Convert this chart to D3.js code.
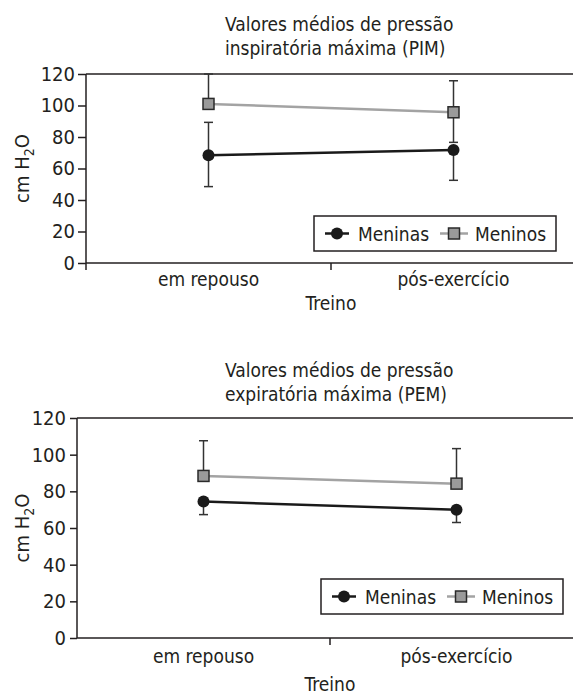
<!DOCTYPE html>
<html>
<head>
<meta charset="utf-8">
<script src="https://cdn.jsdelivr.net/npm/d3@7"></script>
<style>
  html, body { margin: 0; padding: 0; background: #fff; }
  svg { display: block; }
  text { font-family: "Liberation Sans Narrow", "DejaVu Sans Condensed", "Arial Narrow", sans-serif; fill: #231f20; }
</style>
</head>
<body>
<svg id="chart" width="573" height="696"></svg>
<script>
// ---------- data ----------
const categories = ["em repouso", "pós-exercício"];
const yTicks = [0, 20, 40, 60, 80, 100, 120];
const seriesNames = ["Meninas", "Meninos"];
const xAxisTitle = "Treino";

const pimTitle = ["Valores médios de pressão", "inspiratória máxima (PIM)"];
const pimMeninas = [68.4, 71.7];
const pimMeninasLow = [48.5, 52.5];
const pimMeninasHigh = [89.3, null];
const pimMeninos = [101, 95.7];
const pimMeninosLow = [null, 76.6];
const pimMeninosHigh = [120, 115.7];

const pemTitle = ["Valores médios de pressão", "expiratória máxima (PEM)"];
const pemMeninas = [74.4, 70.0];
const pemMeninasLow = [67.3, 63.0];
const pemMeninasHigh = [null, null];
const pemMeninos = [88.4, 84.2];
const pemMeninosLow = [null, null];
const pemMeninosHigh = [107.6, 103.3];

// ---------- drawing ----------
const svg = d3.select("#chart");
const FONT = 19;
const FAM = '"Liberation Sans Narrow", "DejaVu Sans Condensed", sans-serif';

function drawChart(cfg) {
  const g = svg.append("g");
  const x = d3.scaleBand().domain(categories).range([cfg.left, cfg.right]);
  const y = d3.scaleLinear().domain([0, 120]).range([cfg.bottom, cfg.top]);
  const cx = c => x(c) + x.bandwidth() / 2;

  // title
  const t = g.append("text").attr("x", cfg.titleX).attr("y", cfg.titleY)
    .style("font-size", FONT + "px");
  cfg.title.forEach((line, i) => {
    t.append("tspan").attr("x", cfg.titleX).attr("dy", i === 0 ? 0 : 24).text(line);
  });

  // top frame line
  g.append("line").attr("x1", cfg.left).attr("x2", cfg.right)
    .attr("y1", y(120)).attr("y2", y(120))
    .attr("stroke", "#231f20").attr("stroke-width", 1.5);

  // y axis
  const ya = g.append("g").attr("transform", `translate(${cfg.left},0)`)
    .call(d3.axisLeft(y).tickValues(yTicks).tickSize(cfg.yTickSize).tickPadding(cfg.yTickPad).tickSizeOuter(0));
  ya.select(".domain").attr("stroke", "#231f20").attr("stroke-width", 1.5)
    .attr("d", `M0,${y(120)}V${cfg.bottom + cfg.xOuter}`);
  ya.selectAll(".tick line").attr("stroke", "#231f20").attr("stroke-width", 1.5);
  ya.selectAll(".tick text").style("font-size", "20px").attr("fill", "#231f20")
    .style("font-family", FAM);

  // x axis
  const xa = g.append("g").attr("transform", `translate(0,${cfg.bottom})`)
    .call(d3.axisBottom(x).tickSize(0).tickPadding(cfg.xLabelPad));
  xa.select(".domain").attr("stroke", "#231f20").attr("stroke-width", 1.5)
    .attr("d", `M${cfg.left},0H${cfg.right}`);
  xa.selectAll(".tick text").style("font-size", FONT + "px").attr("fill", "#231f20")
    .style("font-family", FAM);
  // tick between categories
  g.append("line")
    .attr("x1", x(categories[1])).attr("x2", x(categories[1]))
    .attr("y1", cfg.bottom).attr("y2", cfg.bottom + 7)
    .attr("stroke", "#231f20").attr("stroke-width", 1.5);

  // x axis title
  g.append("text").attr("x", x(categories[1])).attr("y", cfg.xTitleY)
    .attr("text-anchor", "middle").style("font-size", FONT + "px").text(xAxisTitle);

  // y axis title
  const yl = g.append("text")
    .attr("transform", `translate(${cfg.yTitleX},${(cfg.top + cfg.bottom) / 2}) rotate(-90)`)
    .attr("text-anchor", "middle").style("font-size", "20px");
  yl.append("tspan").text("cm H");
  yl.append("tspan").attr("dy", 5).style("font-size", "14px").text("2");
  yl.append("tspan").attr("dy", -5).text("O");

  const series = [
    { name: seriesNames[0], v: cfg.meninas, lo: cfg.meninasLow, hi: cfg.meninasHigh, color: "#1a1a1a", shape: "circle" },
    { name: seriesNames[1], v: cfg.meninos, lo: cfg.meninosLow, hi: cfg.meninosHigh, color: "#a3a3a3", shape: "square" }
  ];

  // error bars
  const eb = g.append("g").attr("stroke", "#333").attr("stroke-width", 1.5);
  series.forEach(s => {
    categories.forEach((c, i) => {
      const X = cx(c);
      const top = s.hi[i] != null ? s.hi[i] : s.v[i];
      const bot = s.lo[i] != null ? s.lo[i] : s.v[i];
      eb.append("line").attr("x1", X).attr("x2", X).attr("y1", y(top)).attr("y2", y(bot));
      [s.hi[i], s.lo[i]].forEach(b => {
        if (b != null) eb.append("line").attr("x1", X - 4.5).attr("x2", X + 4.5).attr("y1", y(b)).attr("y2", y(b));
      });
    });
  });

  // lines
  const lineGen = d3.line().x((d, i) => cx(categories[i])).y(d => y(d));
  series.slice().reverse().forEach(s => {
    g.append("path").datum(s.v).attr("d", lineGen).attr("fill", "none")
      .attr("stroke", s.color).attr("stroke-width", 2.5);
  });

  // markers
  series.forEach(s => {
    s.v.forEach((v, i) => {
      const X = cx(categories[i]), Y = y(v);
      if (s.shape === "circle") {
        g.append("circle").attr("cx", X).attr("cy", Y).attr("r", 6).attr("fill", "#1a1a1a");
      } else {
        g.append("rect").attr("x", X - 5.5).attr("y", Y - 5.5).attr("width", 11).attr("height", 11)
          .attr("fill", "#9a9a9a").attr("stroke", "#2a2a2a").attr("stroke-width", 1.5);
      }
    });
  });

  // legend
  const L = g.append("g").attr("transform", `translate(${cfg.legX},${cfg.legY})`);
  L.append("rect").attr("x", 0).attr("y", 0).attr("width", 242).attr("height", 35)
    .attr("fill", "#fff").attr("stroke", "#231f20").attr("stroke-width", 1.5);
  L.append("line").attr("x1", 11).attr("x2", 35).attr("y1", 17.5).attr("y2", 17.5)
    .attr("stroke", "#1a1a1a").attr("stroke-width", 2.5);
  L.append("circle").attr("cx", 23).attr("cy", 17.5).attr("r", 6).attr("fill", "#1a1a1a");
  L.append("text").attr("x", 44).attr("y", 25).style("font-size", FONT + "px").text(seriesNames[0]);
  L.append("line").attr("x1", 126).attr("x2", 154).attr("y1", 17.5).attr("y2", 17.5)
    .attr("stroke", "#a3a3a3").attr("stroke-width", 2.5);
  L.append("rect").attr("x", 140 - 5.5).attr("y", 12).attr("width", 11).attr("height", 11)
    .attr("fill", "#9a9a9a").attr("stroke", "#2a2a2a").attr("stroke-width", 1.5);
  L.append("text").attr("x", 161).attr("y", 25).style("font-size", FONT + "px").text(seriesNames[1]);
}

drawChart({
  title: pimTitle, titleX: 225, titleY: 31,
  left: 86, right: 576, top: 74, bottom: 263,
  yTickSize: 8, yTickPad: 3, xOuter: 7, xLabelPad: 10, xTitleY: 310, yTitleX: 29,
  meninas: pimMeninas, meninasLow: pimMeninasLow, meninasHigh: pimMeninasHigh,
  meninos: pimMeninos, meninosLow: pimMeninosLow, meninosHigh: pimMeninosHigh,
  legX: 314, legY: 216
});

drawChart({
  title: pemTitle, titleX: 225, titleY: 377,
  left: 77, right: 583, top: 418, bottom: 638,
  yTickSize: 7, yTickPad: 4, xOuter: 0, xLabelPad: 12, xTitleY: 691, yTitleX: 29,
  meninas: pemMeninas, meninasLow: pemMeninasLow, meninasHigh: pemMeninasHigh,
  meninos: pemMeninos, meninosLow: pemMeninosLow, meninosHigh: pemMeninosHigh,
  legX: 321, legY: 579
});
</script>
</body>
</html>
